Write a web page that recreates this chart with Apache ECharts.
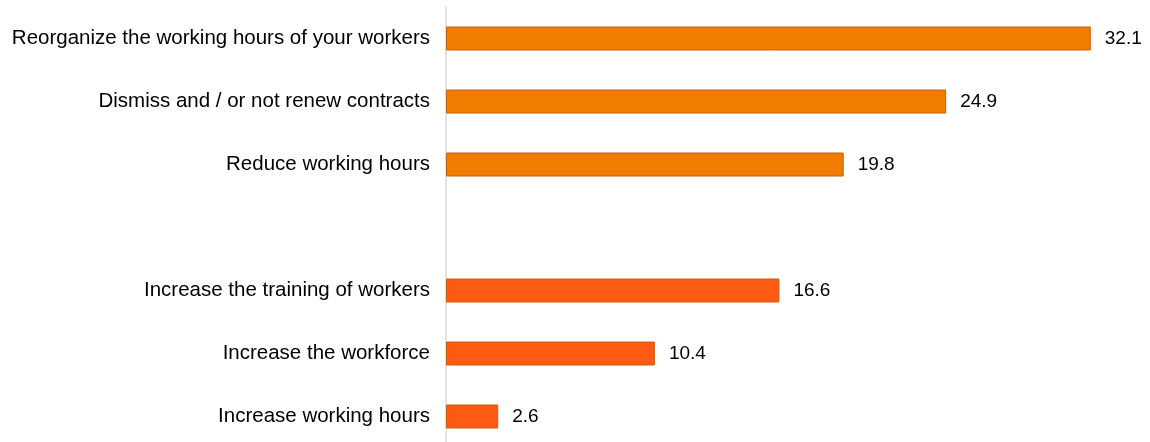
<!DOCTYPE html>
<html>
<head>
<meta charset="utf-8">
<script src="https://cdn.jsdelivr.net/npm/echarts@6/dist/echarts.min.js"></script>
<style>
  html, body { margin: 0; padding: 0; background: #fff; }
  #chart { width: 1150px; height: 442px; }
</style>
</head>
<body>
<div id="chart"></div>
<script>
// Employer responses, percentage of firms
const categories = [
  'Reorganize the working hours of your workers',
  'Dismiss and / or not renew contracts',
  'Reduce working hours',
  '',
  'Increase the training of workers',
  'Increase the workforce',
  'Increase working hours'
];
const values = [32.1, 24.9, 19.8, null, 16.6, 10.4, 2.6];
const groupColors = ['#F07D00', '#F07D00', '#F07D00', null, '#FF5A14', '#FF5A14', '#FF5A14'];

const chart = echarts.init(document.getElementById('chart'), null, { renderer: 'canvas' });

chart.setOption({
  animation: false,
  grid: {
    left: 446, top: 7, width: 703, height: 441,
    containLabel: false,
    outerBoundsMode: 'none'
  },
  xAxis: {
    type: 'value',
    min: 0,
    max: 35,
    show: false
  },
  yAxis: {
    type: 'category',
    data: categories,
    inverse: true,
    axisLine: { show: true, lineStyle: { color: '#D9D9D9', width: 1.5 } },
    axisTick: { show: false },
    axisLabel: {
      color: '#000',
      fontFamily: 'Liberation Sans, Arial, sans-serif',
      fontSize: 20.5,
      margin: 16
    }
  },
  series: [{
    type: 'bar',
    barWidth: 24,
    data: values.map((v, i) => v === null ? '-' : {
      value: v,
      itemStyle: { color: groupColors[i], borderColor: '#C8600C', borderWidth: 1 }
    }),
    label: {
      show: true,
      position: 'right',
      distance: 14,
      color: '#000',
      fontFamily: 'Liberation Sans, Arial, sans-serif',
      fontSize: 19,
      formatter: p => p.value.toFixed(1)
    }
  }]
});
</script>
</body>
</html>
